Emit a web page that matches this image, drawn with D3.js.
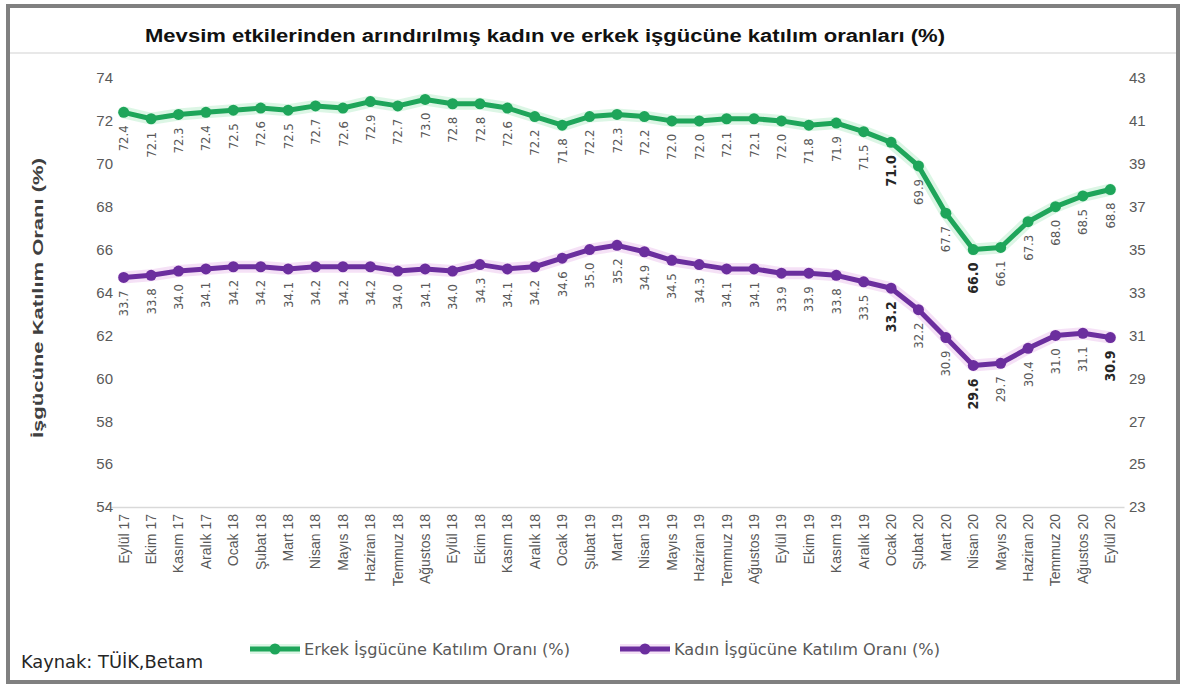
<!DOCTYPE html>
<html>
<head>
<meta charset="utf-8">
<script src="https://cdn.jsdelivr.net/npm/d3@7"></script>
<style>
  html, body { margin: 0; padding: 0; background: #fff; }
  svg { display: block; }
</style>
</head>
<body>
<svg id="chart" width="1200" height="698"></svg>
<script>
const months = ["Eylül 17","Ekim 17","Kasım 17","Aralık 17","Ocak 18","Şubat 18","Mart 18","Nisan 18","Mayıs 18","Haziran 18","Temmuz 18","Ağustos 18","Eylül 18","Ekim 18","Kasım 18","Aralık 18","Ocak 19","Şubat 19","Mart 19","Nisan 19","Mayıs 19","Haziran 19","Temmuz 19","Ağustos 19","Eylül 19","Ekim 19","Kasım 19","Aralık 19","Ocak 20","Şubat 20","Mart 20","Nisan 20","Mayıs 20","Haziran 20","Temmuz 20","Ağustos 20","Eylül 20"];
const maleRate = [72.4,72.1,72.3,72.4,72.5,72.6,72.5,72.7,72.6,72.9,72.7,73.0,72.8,72.8,72.6,72.2,71.8,72.2,72.3,72.2,72.0,72.0,72.1,72.1,72.0,71.8,71.9,71.5,71.0,69.9,67.7,66.0,66.1,67.3,68.0,68.5,68.8];
const femaleRate = [33.7,33.8,34.0,34.1,34.2,34.2,34.1,34.2,34.2,34.2,34.0,34.1,34.0,34.3,34.1,34.2,34.6,35.0,35.2,34.9,34.5,34.3,34.1,34.1,33.9,33.9,33.8,33.5,33.2,32.2,30.9,29.6,29.7,30.4,31.0,31.1,30.9];
const leftTicks = [54,56,58,60,62,64,66,68,70,72,74];
const rightTicks = [23,25,27,29,31,33,35,37,39,41,43];
const boldMale = ["Ocak 20","Nisan 20"];
const boldFemale = ["Ocak 20","Nisan 20","Eylül 20"];
const titleText = "Mevsim etkilerinden arındırılmış kadın ve erkek işgücüne katılım oranları (%)";
const yTitle = "İşgücüne Katılım Oranı (%)";
const maleName = "Erkek İşgücüne Katılım Oranı (%)";
const femaleName = "Kadın İşgücüne Katılım Oranı (%)";
const sourceText = "Kaynak: TÜİK,Betam";

const svg = d3.select("#chart");
const GREEN = "#1ea55a", PURPLE = "#6b2e9e";
const LBL = "#595959";
const narrow = "'Liberation Sans Narrow','DejaVu Sans Condensed','Liberation Sans',sans-serif";
const sans = "'Liberation Sans',Arial,sans-serif";

// frame
svg.append("rect").attr("x",8).attr("y",6).attr("width",1170).attr("height",676)
  .attr("fill","#fff").attr("stroke","#808080").attr("stroke-width",4);
svg.append("line").attr("x1",10).attr("x2",1176).attr("y1",53).attr("y2",53)
  .attr("stroke","#e0e0e0").attr("stroke-width",1.5);

// title
svg.append("text").attr("x",545).attr("y",42).attr("text-anchor","middle")
  .attr("font-family",sans).attr("font-weight","bold").attr("font-size",18)
  .attr("textLength",800).attr("lengthAdjust","spacingAndGlyphs")
  .attr("fill","#111").text(titleText);

const x = d3.scaleBand().domain(months).range([110,1124]).paddingInner(0).paddingOuter(0);
const xc = d => x(d) + x.bandwidth()/2;
const yL = d3.scaleLinear().domain([54,74]).range([507,78]);
const yR = d3.scaleLinear().domain([23,43]).range([507,78]);

// x axis
const xAxis = d3.axisBottom(x).tickSize(0).tickPadding(0);
const gx = svg.append("g").attr("transform","translate(0,507)").call(xAxis);
gx.select(".domain").attr("stroke","#d9d9d9").attr("stroke-width",1.5);
gx.selectAll(".tick text")
  .attr("font-family",sans).attr("font-size",14).attr("fill",LBL)
  .attr("text-anchor","end").attr("transform","rotate(-90)")
  .attr("x",-7).attr("y",0).attr("dy","0.35em");

// left axis
const gl = svg.append("g").attr("transform","translate(113,0)")
  .call(d3.axisLeft(yL).tickValues(leftTicks).tickSize(0).tickPadding(0));
gl.select(".domain").remove();
gl.selectAll(".tick text").attr("font-family",sans).attr("font-size",15).attr("fill",LBL);

// right axis
const gr = svg.append("g").attr("transform","translate(1129,0)")
  .call(d3.axisRight(yR).tickValues(rightTicks).tickSize(0).tickPadding(0));
gr.select(".domain").remove();
gr.selectAll(".tick text").attr("font-family",sans).attr("font-size",15).attr("fill",LBL);

// y title
svg.append("text").attr("transform","translate(43,298) rotate(-90)")
  .attr("text-anchor","middle").attr("font-family",sans).attr("font-size",15)
  .attr("font-weight","bold").attr("fill","#404040")
  .attr("textLength",280).attr("lengthAdjust","spacingAndGlyphs").text(yTitle);

function drawSeries(vals, yS, color, glow, boldList) {
  const pts = months.map((m,i)=>({m, v: vals[i]}));
  const line = d3.line().x(d=>xc(d.m)).y(d=>yS(d.v));
  svg.append("path").datum(pts).attr("d",line).attr("fill","none")
    .attr("stroke",glow).attr("stroke-width",12).attr("stroke-opacity",0.55)
    .attr("stroke-linejoin","round").attr("stroke-linecap","round");
  svg.append("path").datum(pts).attr("d",line).attr("fill","none")
    .attr("stroke",color).attr("stroke-width",5).attr("stroke-linejoin","round");
  svg.append("g").selectAll("circle").data(pts).join("circle")
    .attr("cx",d=>xc(d.m)).attr("cy",d=>yS(d.v)).attr("r",5.5).attr("fill",color);
  svg.append("g").selectAll("text").data(pts).join("text")
    .attr("transform",d=>`translate(${xc(d.m)},${yS(d.v)+13}) rotate(-90)`)
    .attr("text-anchor","end").attr("dy","0.35em")
    .attr("font-family",narrow).attr("font-size",d=>boldList.includes(d.m)?14:13)
    .attr("font-weight",d=>boldList.includes(d.m)?"bold":"normal")
    .attr("fill",d=>boldList.includes(d.m)?"#262626":LBL)
    .text(d=>d.v.toFixed(1));
}
drawSeries(maleRate, yL, GREEN, "#bfeecf", boldMale);
drawSeries(femaleRate, yR, PURPLE, "#ecc8ef", boldFemale);

// legend
function legendItem(x0, color, glow, name) {
  const g = svg.append("g");
  g.append("line").attr("x1",x0).attr("x2",x0+50).attr("y1",649).attr("y2",649)
    .attr("stroke",glow).attr("stroke-width",10).attr("stroke-opacity",0.55);
  g.append("line").attr("x1",x0).attr("x2",x0+50).attr("y1",649).attr("y2",649)
    .attr("stroke",color).attr("stroke-width",5);
  g.append("circle").attr("cx",x0+25).attr("cy",649).attr("r",5.5).attr("fill",color);
  g.append("text").attr("x",x0+54).attr("y",649).attr("dy","0.35em")
    .attr("font-family",narrow).attr("font-size",16).attr("fill",LBL)
    .attr("textLength",266).attr("lengthAdjust","spacingAndGlyphs").text(name);
}
legendItem(250, GREEN, "#bfeecf", maleName);
legendItem(620, PURPLE, "#ecc8ef", femaleName);

svg.append("text").attr("x",21).attr("y",662).attr("dy","0.35em")
  .attr("font-family",narrow).attr("font-size",18).attr("fill","#262626")
  .attr("textLength",182).attr("lengthAdjust","spacingAndGlyphs").text(sourceText);
</script>
</body>
</html>
